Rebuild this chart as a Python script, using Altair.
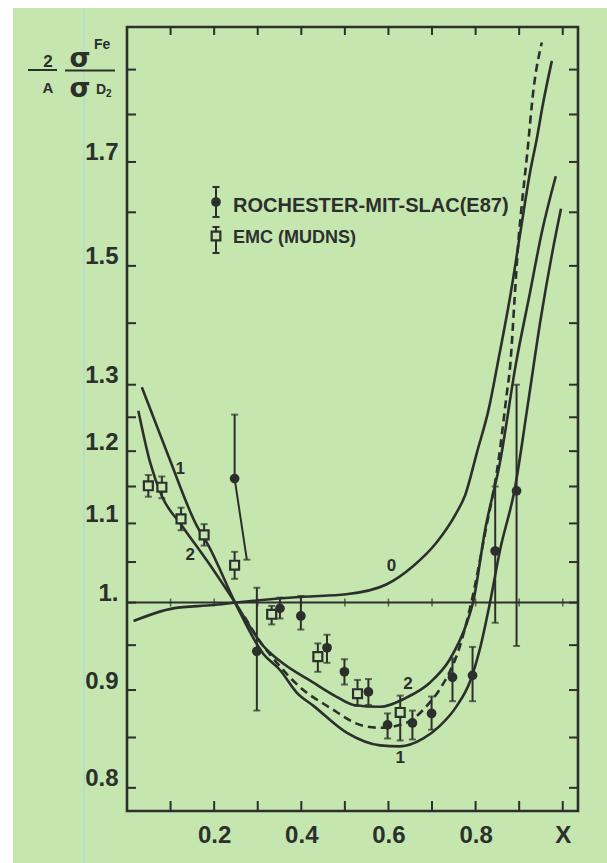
import altair as alt
import pandas as pd

INK = "#2b302c"
BG = "#c6e6b0"
FONT = "Liberation Sans"
W, H = 451, 784

# ---------------- data ----------------
curve0_x = [0.015, 0.106, 0.198, 0.25, 0.404, 0.503, 0.595, 0.657, 0.709, 0.755, 0.776, 0.803,
            0.831, 0.851, 0.881, 0.902, 0.925, 0.940, 0.954, 0.975]
curve0_y = [0.978, 0.993, 0.997, 1.0, 1.007, 1.010, 1.022, 1.045, 1.074, 1.113, 1.138, 1.198,
            1.265, 1.335, 1.453, 1.558, 1.679, 1.746, 1.820, 1.920]

curve1_x = [0.034, 0.095, 0.160, 0.187, 0.248, 0.313, 0.351, 0.390, 0.428, 0.504, 0.581, 0.627,
            0.680, 0.718, 0.757, 0.787, 0.810, 0.833, 0.856, 0.890, 0.920, 0.950, 0.975, 0.996]
curve1_y = [1.296, 1.193, 1.097, 1.071, 1.000, 0.940, 0.922, 0.897, 0.883, 0.855, 0.842, 0.841,
            0.849, 0.862, 0.883, 0.909, 0.946, 1.000, 1.065, 1.147, 1.270, 1.410, 1.520, 1.607]

curve2_x = [0.026, 0.053, 0.080, 0.126, 0.187, 0.248, 0.313, 0.351, 0.428, 0.480, 0.520, 0.581,
            0.642, 0.695, 0.741, 0.780, 0.794, 0.822, 0.856, 0.893, 0.925, 0.952, 0.984]
curve2_y = [1.260, 1.184, 1.137, 1.097, 1.049, 1.000, 0.949, 0.932, 0.908, 0.893, 0.884, 0.882,
            0.892, 0.908, 0.934, 0.976, 1.000, 1.092, 1.184, 1.335, 1.453, 1.562, 1.671]

dashed_x = [0.27, 0.30, 0.344, 0.395, 0.466, 0.542, 0.581, 0.64, 0.69, 0.718, 0.764, 0.791,
            0.822, 0.852, 0.871, 0.880, 0.889, 0.898, 0.905, 0.918, 0.933, 0.952]
dashed_y = [0.983, 0.958, 0.930, 0.904, 0.881, 0.862, 0.860, 0.865, 0.884, 0.901, 0.949, 1.002,
            1.088, 1.184, 1.283, 1.335, 1.436, 1.543, 1.606, 1.713, 1.856, 1.963]

# Rochester-MIT-SLAC (E87), filled circles
roch_x = [0.298, 0.351, 0.399, 0.459, 0.499, 0.554, 0.598, 0.655, 0.699, 0.747, 0.793, 0.845, 0.894]
roch_y = [0.943, 0.993, 0.984, 0.947, 0.920, 0.898, 0.863, 0.865, 0.875, 0.914, 0.916, 1.064, 1.144]
roch_lo = [0.878, 0.981, 0.968, 0.930, 0.906, 0.884, 0.849, 0.848, 0.858, 0.888, 0.888, 0.976, 0.949]
roch_hi = [1.018, 1.006, 1.008, 0.962, 0.934, 0.912, 0.875, 0.878, 0.893, 0.935, 0.948, 1.150, 1.300]

# the x=0.25 point with slanted lower bar
roch25_x, roch25_y, roch25_hi = [0.247], [1.161], [1.254]
roch25_end_x, roch25_end_y = [0.275], [1.053]

# EMC (muons), open squares
emc_x = [0.049, 0.080, 0.124, 0.177, 0.247, 0.332, 0.438, 0.529, 0.627]
emc_y = [1.151, 1.149, 1.106, 1.085, 1.046, 0.986, 0.937, 0.896, 0.876]
emc_lo = [1.136, 1.134, 1.091, 1.071, 1.029, 0.974, 0.920, 0.883, 0.847]
emc_hi = [1.166, 1.164, 1.121, 1.099, 1.063, 0.996, 0.952, 0.911, 0.894]

curve_label_text = ["0", "1", "2", "2", "1"]
curve_label_x = [0.607, 0.122, 0.145, 0.645, 0.627]
curve_label_y = [1.045, 1.174, 1.059, 0.907, 0.829]

x_label_values = [0.2, 0.4, 0.6, 0.8, 1.0]
y_label_values = [0.8, 0.9, 1.0, 1.1, 1.2, 1.3, 1.5, 1.7]
x_tick_values = [0.1, 0.2, 0.3, 0.4, 0.5, 0.6, 0.7, 0.8, 0.9, 1.0]
y_tick_values = [0.8, 0.85, 0.9, 0.95, 1.0, 1.05, 1.1, 1.15, 1.2, 1.25, 1.3,
                 1.4, 1.5, 1.6, 1.7, 1.8, 1.9]

legend_labels = ["ROCHESTER-MIT-SLAC(E87)", "EMC (MUDNS)"]

# ---------------- scales / axes ----------------
xs = alt.Scale(domain=[0, 1.035], nice=False, zero=False)
ys = alt.Scale(type="log", domain=[0.778, 2.0], nice=False)
x_axis = alt.Axis(values=x_label_values,
                  labelExpr="datum.value > 0.95 ? 'X' : format(datum.value, '.1f')",
                  ticks=False, domain=False, grid=False, title=None, zindex=1,
                  labelFont=FONT, labelFontSize=24, labelFontWeight="bold",
                  labelColor=INK, labelPadding=12)
y_axis = alt.Axis(values=y_label_values,
                  labelExpr="datum.value == 1 ? '1.' : format(datum.value, '.1f')",
                  ticks=False, domain=False, grid=False, title=None, zindex=1,
                  labelFont=FONT, labelFontSize=24, labelFontWeight="bold",
                  labelColor=INK, labelPadding=9, labelOffset=-9)


def X(f):
    return alt.X(f, type="quantitative", scale=xs, axis=x_axis)


def Y(f):
    return alt.Y(f, type="quantitative", scale=ys, axis=y_axis)


one = pd.DataFrame({"a": [1]})

solid = pd.concat([
    pd.DataFrame({"x": curve0_x, "y": curve0_y, "c": "0"}),
    pd.DataFrame({"x": curve1_x, "y": curve1_y, "c": "1"}),
    pd.DataFrame({"x": curve2_x, "y": curve2_y, "c": "2"}),
])
dashed = pd.DataFrame({"x": dashed_x, "y": dashed_y})
roch = pd.DataFrame({"x": roch_x, "y": roch_y, "lo": roch_lo, "hi": roch_hi})
emc = pd.DataFrame({"x": emc_x, "y": emc_y, "lo": emc_lo, "hi": emc_hi})
r25 = pd.DataFrame({"x": roch25_x, "y": roch25_y, "hi": roch25_hi,
                    "x2": roch25_end_x, "y2": roch25_end_y})
labels = pd.DataFrame({"t": curve_label_text, "x": curve_label_x, "y": curve_label_y})
hline = pd.DataFrame({"y": [1.0]})
hticks = pd.DataFrame({"x": x_tick_values, "y": [1.0] * len(x_tick_values)})
xt = pd.DataFrame({"v": x_tick_values})
yt = pd.DataFrame({"v": y_tick_values})

layers = []

# white scan margins and faint scan streak
layers.append(alt.Chart(one).mark_rect(color="white").encode(
    x=alt.value(-127), x2=alt.value(-114), y=alt.value(-27), y2=alt.value(H + 52)))
layers.append(alt.Chart(one).mark_rect(color="white").encode(
    x=alt.value(-127), x2=alt.value(W + 29), y=alt.value(-27), y2=alt.value(-19)))
layers.append(alt.Chart(one).mark_rule(color="#b4dccd", strokeWidth=2, opacity=0.8).encode(
    x=alt.value(-43), y=alt.value(-19), y2=alt.value(H + 52)))

# y = 1 reference line with small ticks
layers.append(alt.Chart(hline).mark_rule(color=INK, strokeWidth=2).encode(y=Y("y")))
layers.append(alt.Chart(hticks).mark_tick(color=INK, orient="vertical", size=8, thickness=1.6)
              .encode(x=X("x"), y=Y("y")))

# frame ticks (inward)
layers.append(alt.Chart(yt).mark_rule(color=INK, strokeWidth=2).encode(
    y=Y("v"), x=alt.value(0), x2=alt.value(9)))
layers.append(alt.Chart(yt).mark_rule(color=INK, strokeWidth=2).encode(
    y=Y("v"), x=alt.value(W - 9), x2=alt.value(W)))
layers.append(alt.Chart(xt).mark_rule(color=INK, strokeWidth=2).encode(
    x=X("v"), y=alt.value(H - 10), y2=alt.value(H)))
layers.append(alt.Chart(xt).mark_rule(color=INK, strokeWidth=2).encode(
    x=X("v"), y=alt.value(0), y2=alt.value(8)))

# curves
layers.append(alt.Chart(solid).mark_line(color=INK, strokeWidth=2.6, interpolate="monotone")
              .encode(x=X("x"), y=Y("y"), detail="c:N"))
layers.append(alt.Chart(dashed).mark_line(color=INK, strokeWidth=2.6, interpolate="monotone",
                                          strokeDash=[8, 5])
              .encode(x=X("x"), y=Y("y")))

# error bars
for df in (roch, emc):
    layers.append(alt.Chart(df).mark_rule(color=INK, strokeWidth=2)
                  .encode(x=X("x"), y=Y("lo"), y2="hi"))
    layers.append(alt.Chart(df).mark_tick(color=INK, orient="horizontal", size=7, thickness=2)
                  .encode(x=X("x"), y=Y("lo")))
    layers.append(alt.Chart(df).mark_tick(color=INK, orient="horizontal", size=7, thickness=2)
                  .encode(x=X("x"), y=Y("hi")))

layers.append(alt.Chart(r25).mark_rule(color=INK, strokeWidth=2)
              .encode(x=X("x"), y=Y("y"), y2="hi"))
layers.append(alt.Chart(r25).mark_tick(color=INK, orient="horizontal", size=7, thickness=2)
              .encode(x=X("x"), y=Y("hi")))
layers.append(alt.Chart(r25).mark_rule(color=INK, strokeWidth=2)
              .encode(x=X("x"), y=Y("y"), x2="x2", y2="y2"))
layers.append(alt.Chart(r25).mark_tick(color=INK, orient="horizontal", size=7, thickness=2)
              .encode(x=X("x2"), y=Y("y2")))

# points
layers.append(alt.Chart(roch).mark_point(shape="circle", filled=True, color=INK, size=95, opacity=1)
              .encode(x=X("x"), y=Y("y")))
layers.append(alt.Chart(r25).mark_point(shape="circle", filled=True, color=INK, size=95, opacity=1)
              .encode(x=X("x"), y=Y("y")))
layers.append(alt.Chart(emc).mark_point(shape="square", fill=BG, stroke=INK, strokeWidth=2.2,
                                        size=80, opacity=1, fillOpacity=1)
              .encode(x=X("x"), y=Y("y")))

# curve labels
layers.append(alt.Chart(labels).mark_text(font=FONT, fontSize=17, fontWeight="bold", color=INK)
              .encode(x=X("x"), y=Y("y"), text="t:N"))

# legend
lx = 89
layers.append(alt.Chart(one).mark_rule(color=INK, strokeWidth=2).encode(
    x=alt.value(lx), y=alt.value(160), y2=alt.value(190)))
layers.append(alt.Chart(one).mark_rule(color=INK, strokeWidth=2).encode(
    x=alt.value(lx - 3.5), x2=alt.value(lx + 3.5), y=alt.value(160)))
layers.append(alt.Chart(one).mark_rule(color=INK, strokeWidth=2).encode(
    x=alt.value(lx - 3.5), x2=alt.value(lx + 3.5), y=alt.value(190)))
layers.append(alt.Chart(one).mark_point(shape="circle", filled=True, color=INK, size=95, opacity=1)
              .encode(x=alt.value(lx), y=alt.value(175)))
layers.append(alt.Chart(one).mark_rule(color=INK, strokeWidth=2).encode(
    x=alt.value(lx), y=alt.value(200), y2=alt.value(226)))
layers.append(alt.Chart(one).mark_rule(color=INK, strokeWidth=2).encode(
    x=alt.value(lx - 3.5), x2=alt.value(lx + 3.5), y=alt.value(200)))
layers.append(alt.Chart(one).mark_rule(color=INK, strokeWidth=2).encode(
    x=alt.value(lx - 3.5), x2=alt.value(lx + 3.5), y=alt.value(226)))
layers.append(alt.Chart(one).mark_point(shape="square", fill=BG, stroke=INK, strokeWidth=2.2,
                                        size=75, opacity=1, fillOpacity=1)
              .encode(x=alt.value(lx), y=alt.value(209)))
layers.append(alt.Chart(one).mark_text(text=legend_labels[0], font=FONT, fontSize=20,
                                       fontWeight="bold", color=INK, align="left", baseline="middle")
              .encode(x=alt.value(106), y=alt.value(179)))
layers.append(alt.Chart(one).mark_text(text=legend_labels[1], font=FONT, fontSize=18,
                                       fontWeight="bold", color=INK, align="left", baseline="middle")
              .encode(x=alt.value(106), y=alt.value(211)))


# y-axis title: 2/A * sigma^Fe / sigma^D2
def txt(s, x, y, size, align="center", font=FONT):
    return alt.Chart(one).mark_text(text=s, font=font, fontSize=size, fontWeight="bold",
                                    color=INK, align=align, baseline="alphabetic").encode(
        x=alt.value(x), y=alt.value(y))


layers.append(txt("2", -79, 40, 17))
layers.append(txt("A", -79, 66, 15))
layers.append(alt.Chart(one).mark_rule(color=INK, strokeWidth=2).encode(
    x=alt.value(-99), x2=alt.value(-70), y=alt.value(43)))
layers.append(alt.Chart(one).mark_rule(color=INK, strokeWidth=2).encode(
    x=alt.value(-62), x2=alt.value(-12), y=alt.value(43.5)))
layers.append(txt("σ", -47, 40, 27, font="DejaVu Sans"))
layers.append(txt("σ", -47, 70, 27, font="DejaVu Sans"))
layers.append(txt("Fe", -33, 22, 14, "left"))
layers.append(txt("D", -31, 67, 14, "left"))
layers.append(txt("2", -21, 70, 10, "left"))

chart = alt.layer(*layers).properties(
    width=W, height=H,
    padding={"left": 127, "top": 27, "right": 29, "bottom": 52},
    autosize=alt.AutoSizeParams(type="none"),
).configure(background=BG).configure_view(stroke=INK, strokeWidth=2.6)

chart.save("out.html", embed_options={"renderer": "svg", "actions": False})
